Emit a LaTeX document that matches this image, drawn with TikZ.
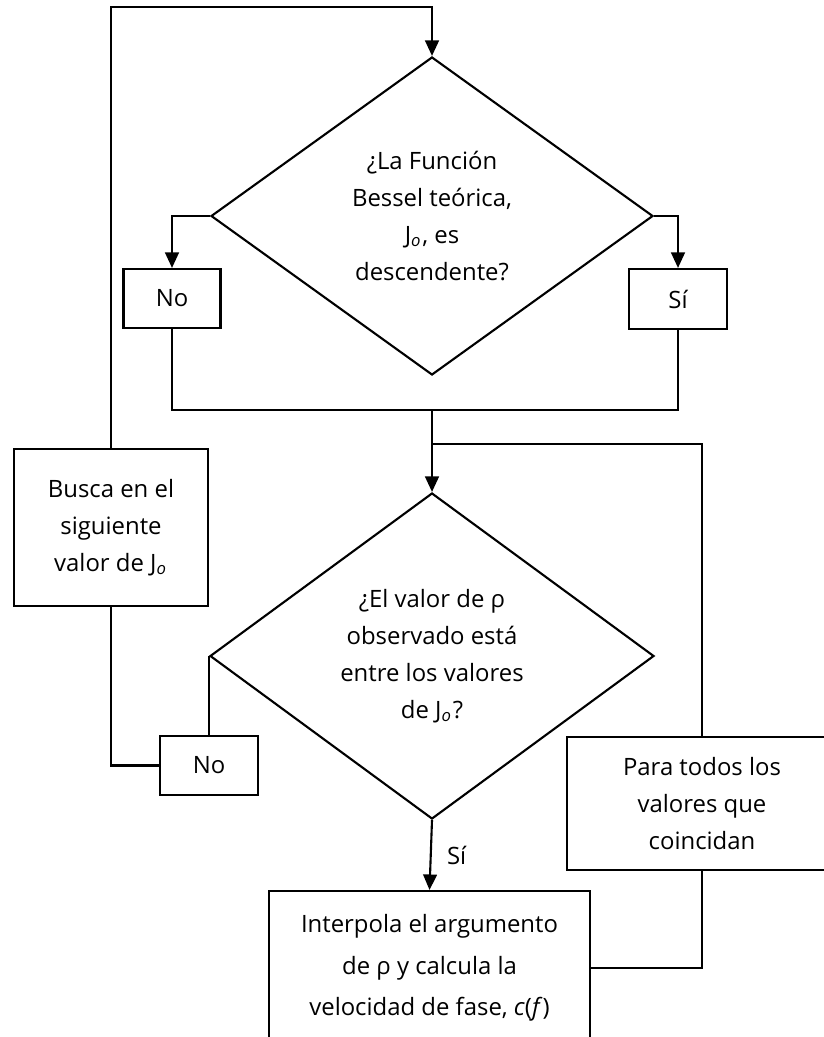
\documentclass[tikz,border=0pt]{standalone}
\usepackage{fontspec}
\setmainfont{Open Sans}
\usetikzlibrary{shapes.geometric,arrows.meta}
\tikzset{
  caja/.style={draw,align=center,inner sep=0pt},
  rombo/.style={draw,diamond,align=center,inner sep=0pt},
}
\begin{document}
\begin{tikzpicture}[line width=0.6pt,>={Triangle[length=4.4pt,width=3.9pt]},font=\fontsize{6.8}{10.5}\selectfont]
\useasboundingbox (0,0) rectangle (8.23,-10.37);
\node[rombo,minimum width=4.42cm,minimum height=3.18cm] (q1) at (4.32,-2.16) {¿La Función\\Bessel teórica,\\J\textsubscript{\itshape o}, es\\descendente?};
\node[caja,minimum width=0.97cm,minimum height=0.59cm] (no1) at (1.72,-2.985) {No};
\node[caja,minimum width=0.98cm,minimum height=0.60cm] (si1) at (6.78,-2.99) {Sí};
\node[caja,minimum width=1.94cm,minimum height=1.57cm] (busca) at (1.11,-5.275) {Busca en el\\siguiente\\valor de J\textsubscript{\itshape o}};
\node[rombo,minimum width=4.44cm,minimum height=3.26cm] (q2) at (4.32,-6.56) {¿El valor de ρ\\observado está\\entre los valores\\de J\textsubscript{\itshape o}?};
\node[caja,minimum width=0.98cm,minimum height=0.59cm] (no2) at (2.09,-7.655) {No};
\node[caja,minimum width=2.70cm,minimum height=1.33cm] (para) at (7.02,-8.035) {Para todos los\\valores que\\coincidan};
\node[caja,minimum width=3.21cm,minimum height=1.54cm,font=\fontsize{6.8}{11.8}\selectfont] (interp) at (4.295,-9.68) {Interpola el argumento\\de ρ y calcula la\\velocidad de fase, \textit{c}(\textit{f})};
% puntos de union
\coordinate (arriba) at (4.32,-0.07);
\coordinate (junta) at (4.32,-4.10);
\coordinate (rama) at (4.32,-4.44);
\draw[->] (busca.north) |- (arriba) -- (q1.north);
\draw[->] (q1.west) -| (no1.north);
\draw[->] (q1.east) -| (si1.north);
\draw (no1.south) |- (junta) -| (si1.south);
\draw[->] (junta) -- (q2.north);
\draw (rama) -| (para.north);
\draw (q2.west) -- (q2.west |- no2.north);
\draw (no2.west) -| (busca.south);
\draw[->] (q2.south) -- node[right,xshift=1pt] {Sí} (interp.north);
\draw (para.south) |- (interp.east);
\end{tikzpicture}
\end{document}
